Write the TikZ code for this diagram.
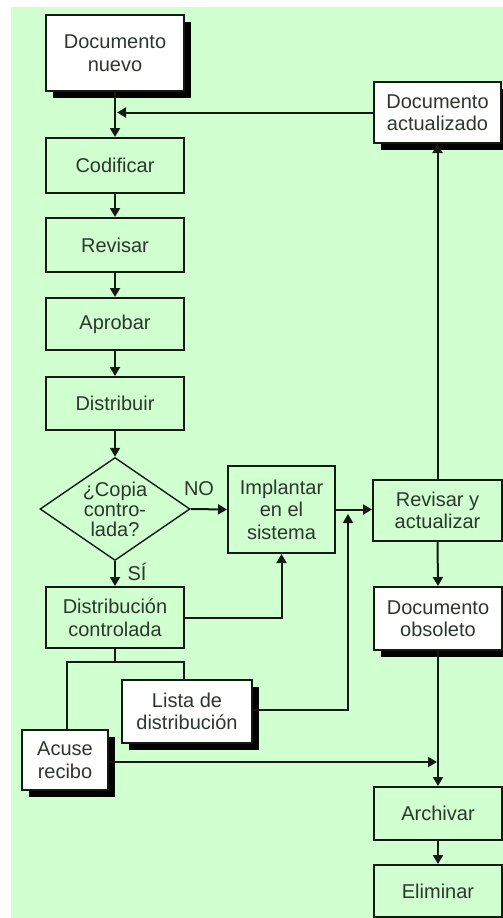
\documentclass[tikz,border=0pt]{standalone}
\usepackage{fontspec}
\setmainfont{Liberation Sans}
\usetikzlibrary{arrows.meta,shapes.geometric,shadows}
\definecolor{bggreen}{RGB}{208,255,208}
\definecolor{txtcol}{RGB}{45,55,45}
\definecolor{linecol}{RGB}{20,25,20}
\tikzset{
  base/.style={rectangle, draw=linecol, line width=2pt, text=txtcol, align=center, inner sep=0pt,
    font=\fontsize{20}{22.5}\selectfont},
  gbox/.style={base, fill=bggreen},
  wbox/.style={base, fill=white, drop shadow={shadow xshift=6.5pt, shadow yshift=-6.5pt, fill=black, opacity=1}},
  conn/.style={draw=linecol, line width=2pt},
  arr/.style={conn, -{Triangle[length=9pt,width=10pt]}},
  lbl/.style={text=txtcol, font=\fontsize{20}{22.5}\selectfont, inner sep=0pt}
}
\begin{document}
\begin{tikzpicture}[x=1pt,y=-1pt]
\useasboundingbox (0,0) rectangle (503,918);
\fill[bggreen] (11,7) rectangle (503,918);

% nodes
\node[wbox, minimum width=138pt, minimum height=76pt] (nuevo) at (115,53) {Documento\\nuevo};
\node[gbox, minimum width=138pt, minimum height=55pt] (codif) at (115,165.5) {Codificar};
\node[gbox, minimum width=138pt, minimum height=54pt] (revis) at (115,245) {Revisar};
\node[gbox, minimum width=138pt, minimum height=52pt] (aprob) at (115,324) {Aprobar};
\node[gbox, minimum width=138pt, minimum height=53pt] (distr) at (115,403.5) {Distribuir};
\node[diamond, draw=linecol, line width=1.4pt, minimum width=150pt, minimum height=103pt, inner sep=0pt,
  label={[lbl, align=center, font=\fontsize{20}{20}\selectfont]center:{¿Copia\\contro-\\lada?}}] (dec) at (115,509) {};
\node[gbox, minimum width=138pt, minimum height=61pt] (dctrl) at (115,617.5) {Distribución\\controlada};
\node[gbox, minimum width=107pt, minimum height=87pt] (impl) at (281.5,509.5) {Implantar\\en el\\sistema};
\node[gbox, minimum width=129pt, minimum height=61pt] (revact) at (437.5,510.5) {Revisar y\\actualizar};
\node[wbox, minimum width=127pt, minimum height=61pt] (docact) at (437.5,112.5) {Documento\\actualizado};
\node[wbox, minimum width=128pt, minimum height=63pt] (docobs) at (438,618.5) {Documento\\obsoleto};
\node[wbox, minimum width=130pt, minimum height=63pt] (lista) at (187,711.5) {Lista de\\distribución};
\node[wbox, minimum width=86pt, minimum height=60pt] (acuse) at (65,760) {Acuse\\recibo};
\node[gbox, minimum width=128pt, minimum height=53pt] (archi) at (438,813.5) {Archivar};
\node[gbox, minimum width=128pt, minimum height=52pt] (elimi) at (438,891) {Eliminar};

\node[lbl] (no) at (199,489) {NO};
\node[lbl] (si) at (137,572) {SÍ};

% helper coordinates
\coordinate (join1) at (117,112.5);
\coordinate (split) at (115,662);
\coordinate (splitL) at (67,662);
\coordinate (splitR) at (184,662);
\coordinate (upL) at (348,710);
\coordinate (upTip) at (348,514);
\coordinate (acTip) at (437,762);

% connectors
\draw[arr] (nuevo.south) -- (codif.north);
\draw[arr] (docact.west) -- (join1);
\draw[arr] (codif.south) -- (revis.north);
\draw[arr] (revis.south) -- (aprob.north);
\draw[arr] (aprob.south) -- (distr.north);
\draw[arr] (distr.south) -- (dec.north);
\draw[arr] (dec.east) -- (impl.west);
\draw[arr] (dec.south) -- (dctrl.north);
\draw[arr] (dctrl.east |- 0,618) -| (impl.south);
\draw[arr] (impl.east) -- (revact.west |- impl.east);
\draw[arr] (lista.east |- upL) -- (upL) -- (upTip);
\draw[arr] (revact.north) -- (docact.south);
\draw[arr] (revact.south) -- (docobs.north);
\draw[conn] (dctrl.south) -- (split);
\draw[conn] (acuse.north -| splitL) -- (splitL) -- (splitR) -- (lista.north -| splitR);
\draw[arr] (acuse.east |- acTip) -- (acTip);
\draw[arr] (docobs.south) -- (archi.north);
\draw[arr] (archi.south) -- (elimi.north);
\end{tikzpicture}
\end{document}
